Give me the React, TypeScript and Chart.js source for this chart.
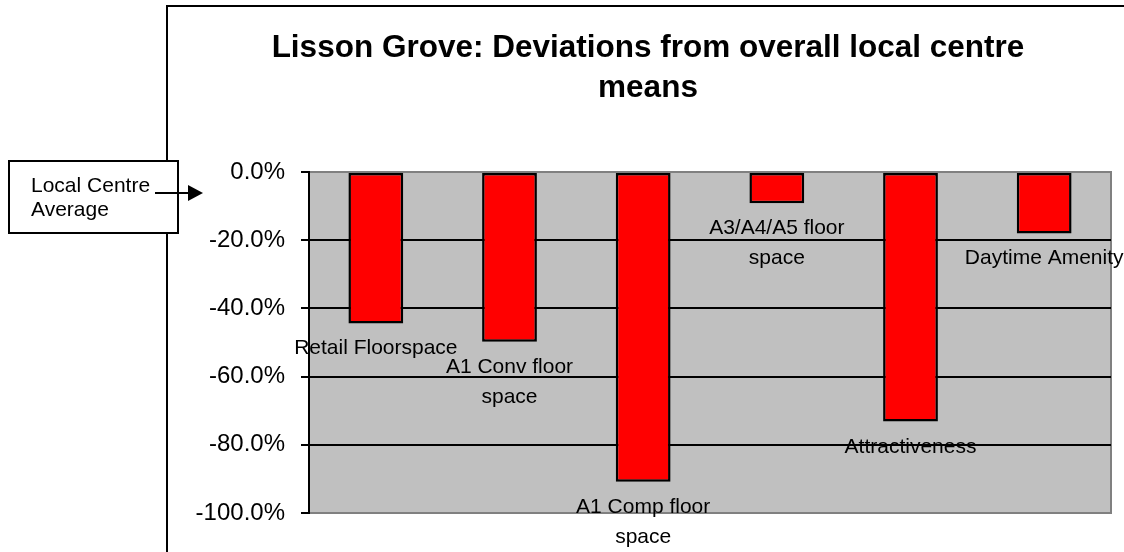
import React, { useEffect, useRef } from "react";
import { Chart, registerables } from "chart.js";

Chart.register(...registerables);

const categories: string[][] = [
  ["Retail Floorspace"],
  ["A1 Conv floor", "space"],
  ["A1 Comp floor", "space"],
  ["A3/A4/A5 floor", "space"],
  ["Attractiveness"],
  ["Daytime Amenity"],
];
const deviations = [-44.4, -49.8, -90.8, -9.2, -73.2, -18.0];
const yTicks = [0, -20, -40, -60, -80, -100];
const titleLines = ["Lisson Grove: Deviations from overall local centre", "means"];
const noteLines = ["Local Centre", "Average"];

const FONT = "'Liberation Sans', Arial, sans-serif";

const decor = {
  id: "decor",
  beforeDraw(chart: any) {
    const { ctx, chartArea: a } = chart;
    ctx.save();
    // outer frame
    ctx.strokeStyle = "#000";
    ctx.lineWidth = 2;
    ctx.beginPath();
    ctx.moveTo(167, 552);
    ctx.lineTo(167, 6);
    ctx.lineTo(1124, 6);
    ctx.stroke();
    // plot background
    ctx.fillStyle = "#C0C0C0";
    ctx.fillRect(a.left, a.top, a.right - a.left, a.bottom - a.top);
    ctx.strokeStyle = "#808080";
    ctx.lineWidth = 2;
    ctx.strokeRect(a.left, a.top, a.right - a.left, a.bottom - a.top);
    // title
    ctx.fillStyle = "#000";
    ctx.font = `bold 31.5px ${FONT}`;
    ctx.textAlign = "center";
    ctx.textBaseline = "alphabetic";
    ctx.fillText(titleLines[0], 648, 57);
    ctx.fillText(titleLines[1], 648, 97);
    ctx.restore();
  },
  afterDatasetsDraw(chart: any) {
    const { ctx } = chart;
    const meta = chart.getDatasetMeta(0);
    ctx.save();
    ctx.fillStyle = "#000";
    ctx.font = `21px ${FONT}`;
    ctx.textAlign = "center";
    ctx.textBaseline = "alphabetic";
    meta.data.forEach((bar: any, i: number) => {
      const lines = categories[i];
      lines.forEach((ln, k) => {
        ctx.fillText(ln, bar.x, bar.y + 31 + k * 30);
      });
    });
    ctx.restore();
  },
  afterDraw(chart: any) {
    const { ctx } = chart;
    ctx.save();
    // note box
    ctx.fillStyle = "#fff";
    ctx.fillRect(9, 161, 169, 72);
    ctx.strokeStyle = "#000";
    ctx.lineWidth = 2;
    ctx.strokeRect(9, 161, 169, 72);
    ctx.fillStyle = "#000";
    ctx.font = `21px ${FONT}`;
    ctx.textAlign = "left";
    ctx.textBaseline = "alphabetic";
    ctx.fillText(noteLines[0], 31, 192);
    ctx.fillText(noteLines[1], 31, 216);
    // arrow
    ctx.beginPath();
    ctx.moveTo(155, 193);
    ctx.lineTo(190, 193);
    ctx.stroke();
    ctx.beginPath();
    ctx.moveTo(188, 185);
    ctx.lineTo(203, 193);
    ctx.lineTo(188, 201);
    ctx.closePath();
    ctx.fill();
    ctx.restore();
  },
};

export default function App() {
  const ref = useRef<HTMLCanvasElement>(null);
  useEffect(() => {
    if (!ref.current) return;
    const chart = new Chart(ref.current, {
      type: "bar",
      data: {
        labels: categories,
        datasets: [
          {
            data: deviations,
            backgroundColor: "#FF0000",
            borderColor: "#000",
            borderWidth: 2.5,
            borderSkipped: false,
            barPercentage: 0.41,
            categoryPercentage: 1,
          },
        ],
      },
      options: {
        animation: false,
        responsive: false,
        layout: { padding: { left: 0, top: 172, right: 13, bottom: 39 } },
        plugins: {
          legend: { display: false },
          tooltip: { enabled: false },
          title: { display: false },
        },
        scales: {
          x: { display: false },
          y: {
            min: -100,
            max: 0,
            afterBuildTicks: (s: any) => {
              s.ticks = yTicks.map((v) => ({ value: v }));
            },
            afterFit: (s: any) => {
              s.width = 309;
            },
            ticks: {
              color: "#000",
              font: { family: FONT, size: 24 },
              padding: 16,
              callback: (v: any) => Number(v).toFixed(1) + "%",
            },
            grid: {
              color: (c: any) =>
                c.tick && (c.tick.value === 0 || c.tick.value === -100)
                  ? "rgba(0,0,0,0)"
                  : "#000",
              tickColor: "#000",
              tickLength: 8,
              lineWidth: 2,
            },
            border: { color: "#000", width: 2 },
          },
        },
      },
      plugins: [decor],
    });
    return () => chart.destroy();
  }, []);
  return (
    <div style={{ position: "absolute", left: 0, top: 0, width: 1124, height: 552, background: "#fff" }}>
      <canvas ref={ref} width={1124} height={552} />
    </div>
  );
}
